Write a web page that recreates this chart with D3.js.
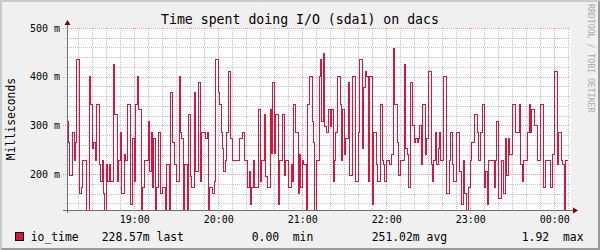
<!DOCTYPE html>
<html>
<head>
<meta charset="utf-8">
<script src="https://cdn.jsdelivr.net/npm/d3@7"></script>
<style>
  body { margin: 0; background: #f0f0f0; }
  text { font-family: "DejaVu Sans Mono", monospace; }
</style>
</head>
<body>
<svg id="chart" width="600" height="250"></svg>
<script>
// io_time in milliseconds, one value per minute starting at 18:12
// (0 = dropped below the visible range)
const io1812 = [308,264,197,197,286,229,264,435,435,161, 173,229,229,229,0,0,400,344,252,264,
                229,344,344,219,184,229,161,0,219,184, 219,184,184,425,322,322,184,229,286,161,
                161,240,229,344,344,138,138,274,184,344, 400,332,332,0,173,229,229,229,308,206];
const io1912 = [286,173,274,0,173,286,286,161,173,173, 0,219,219,0,367,264,264,219,184,184,
                400,286,274,0,219,219,0,322,195,173, 173,367,206,206,389,184,286,286,286,274,
                286,0,173,173,161,184,435,435,367,344, 286,252,206,229,286,411,411,274,229,229];
const io2012 = [229,229,229,274,274,286,286,229,229,173, 206,138,173,229,173,173,173,332,184,229,
                229,322,195,173,173,332,242,389,242,322, 322,138,229,229,322,197,229,229,173,173,
                219,184,344,286,286,161,240,173,229,219, 219,0,344,400,400,308,264,0,229,229];
const io2112 = [400,435,308,447,298,286,286,332,298,332, 184,229,286,400,400,344,229,332,240,274,
                274,389,197,197,400,400,184,184,286,435, 435,252,377,411,400,184,400,400,138,286,
                286,219,184,184,344,229,219,184,229,229, 219,219,240,458,344,344,264,197,229,229];
const io2212 = [229,425,252,240,173,389,389,299,264,274, 264,274,299,219,344,344,240,274,411,411,
                219,184,229,286,219,252,286,229,229,400, 400,161,161,229,286,219,184,184,286,286,
                206,206,138,229,161,0,0,173,229,264, 264,322,322,286,229,286,286,344,173,206];
const io2312 = [138,229,229,229,229,173,229,308,150,150, 229,229,161,274,197,274,240,240,344,344,
                286,286,286,344,219,184,229,229,229,286, 344,286,332,332,299,299,229,229,344,344,
                173,173,229,229,229,173,173,240,411,411, 219,286,286,229,219,0,229,229];

const yMajor = [200, 300, 400, 500];
const yMinor = d3.range(140, 500, 20).filter(v => v % 100 !== 0);
const legendName = "io_time";
const legendStats = ["228.57m last", "0.00", "min", "251.02m avg", "1.92", "max"];

const startTime = new Date(2024, 0, 1, 18, 12);
const endTime = new Date(2024, 0, 2, 0, 12);
const ioValues = [].concat(io1812, io1912, io2012, io2112, io2212, io2312);
const series = ioValues.map((v, i) => ({ t: d3.timeMinute.offset(startTime, i), v: v }));
series.push({ t: d3.timeMinute.offset(startTime, ioValues.length), v: ioValues[ioValues.length - 1] });

const W = 600, H = 250;
const plotL = 67, plotR = 571, plotT = 28, plotB = 210;
const lineColor = "#dc143c";

const x = d3.scaleTime().domain([startTime, endTime]).range([plotL, plotR]);
const y = d3.scaleLinear().domain([126.5, 500]).range([plotB, plotT]);
const px = v => Math.round(v) + 0.5;

const svg = d3.select("#chart");

// background and shaded border
svg.append("rect").attr("width", W).attr("height", H).attr("fill", "#f0f0f0");
svg.append("path").attr("d", "M0,0.5H600M0,1.5H599M0.5,0V250M1.5,0V249")
  .attr("stroke", "#cbcbcb").attr("fill", "none");
svg.append("path").attr("d", "M1,249.5H600M2,248.5H600M599.5,1V250M598.5,2V250")
  .attr("stroke", "#999999").attr("fill", "none");

// canvas
svg.append("rect").attr("x", plotL).attr("y", plotT)
  .attr("width", plotR - plotL).attr("height", plotB - plotT).attr("fill", "#ffffff");

// grid
const grid = svg.append("g").attr("fill", "none").attr("stroke-dasharray", "1,1")
  .attr("shape-rendering", "crispEdges");
grid.selectAll(".hmin").data(yMinor).join("line")
  .attr("x1", plotL - 2).attr("x2", plotR)
  .attr("y1", d => px(y(d))).attr("y2", d => px(y(d)))
  .attr("stroke", "#c4c4c4");
const minorTimes = x.ticks(d3.timeMinute.every(10)).filter(d => d.getMinutes() !== 0);
grid.selectAll(".vmin").data(minorTimes).join("line")
  .attr("x1", d => px(x(d))).attr("x2", d => px(x(d)))
  .attr("y1", plotT).attr("y2", plotB + 2)
  .attr("stroke", "#c4c4c4");
grid.selectAll(".hmaj").data(yMajor).join("line")
  .attr("x1", plotL - 4).attr("x2", plotR)
  .attr("y1", d => px(y(d))).attr("y2", d => px(y(d)))
  .attr("stroke", "#f0a0a0");
const hourTimes = x.ticks(d3.timeHour.every(1));
grid.selectAll(".vmaj").data(hourTimes).join("line")
  .attr("x1", d => px(x(d))).attr("x2", d => px(x(d)))
  .attr("y1", plotT).attr("y2", plotB + 4)
  .attr("stroke", "#f0a0a0");

// data line
svg.append("clipPath").attr("id", "clip").append("rect")
  .attr("x", plotL).attr("y", plotT).attr("width", plotR - plotL + 1).attr("height", plotB - plotT);
const line = d3.line().x(d => x(d.t)).y(d => y(d.v)).curve(d3.curveStepAfter);
svg.append("path").datum(series)
  .attr("clip-path", "url(#clip)")
  .attr("d", line)
  .attr("fill", "none").attr("stroke", lineColor).attr("stroke-width", 1)
  .attr("shape-rendering", "crispEdges");

// axis lines and arrows
svg.append("path").attr("d", `M${plotL - 4},${plotB + 0.5}H${plotR + 2}M${plotL + 0.5},${plotB + 3}V${plotT - 4}`)
  .attr("stroke", "#6e6e6e").attr("fill", "none").attr("shape-rendering", "crispEdges");
svg.append("path").attr("d", `M${plotL + 0.5},${plotT - 8}L${plotL + 3.5},${plotT - 3}L${plotL - 2.5},${plotT - 3}Z`)
  .attr("fill", "#7f0000");
svg.append("path").attr("d", `M${plotR + 7},${plotB + 0.5}L${plotR + 2},${plotB - 2.5}L${plotR + 2},${plotB + 3.5}Z`)
  .attr("fill", "#7f0000");

// tick labels
const yAxis = svg.append("g").attr("transform", `translate(${plotL},0)`)
  .call(d3.axisLeft(y).tickValues(yMajor).tickFormat(d => d + " m").tickSize(0).tickPadding(7));
yAxis.select(".domain").remove();
yAxis.selectAll("text").attr("font-size", 10).attr("fill", "#000")
  .style("font-family", '"DejaVu Sans Mono", monospace');

const xAxis = svg.append("g").attr("transform", `translate(0,${plotB})`)
  .call(d3.axisBottom(x).ticks(d3.timeHour.every(1)).tickFormat(d3.timeFormat("%H:%M")).tickSize(0).tickPadding(6));
xAxis.select(".domain").remove();
xAxis.selectAll("text").attr("font-size", 10).attr("fill", "#000")
  .style("font-family", '"DejaVu Sans Mono", monospace');

// titles
svg.append("text").attr("x", 300).attr("y", 23.5).attr("text-anchor", "middle")
  .attr("font-size", 13.2).text("Time spent doing I/O (sda1) on dacs");
svg.append("text").attr("transform", "translate(15,119) rotate(-90)").attr("text-anchor", "middle")
  .attr("font-size", 11.4).text("Milliseconds");
svg.append("text").attr("transform", "translate(588,4) rotate(90)")
  .attr("font-size", 8.2).attr("fill", "#aaaaaa").text("RRDTOOL / TOBI OETIKER");

// legend
svg.append("rect").attr("x", 15.5).attr("y", 232.5).attr("width", 8).attr("height", 8)
  .attr("fill", lineColor).attr("stroke", "#000");
const legendX = [101.7, 251.7, 292.7, 371.7, 521.7, 563];
svg.append("text").attr("x", 30.7).attr("y", 240.5).attr("font-size", 11.4).text(legendName);
svg.selectAll(".leg").data(legendStats).join("text")
  .attr("x", (d, i) => legendX[i]).attr("y", 240.5).attr("font-size", 11.4)
  .text(d => d);
</script>
</body>
</html>
